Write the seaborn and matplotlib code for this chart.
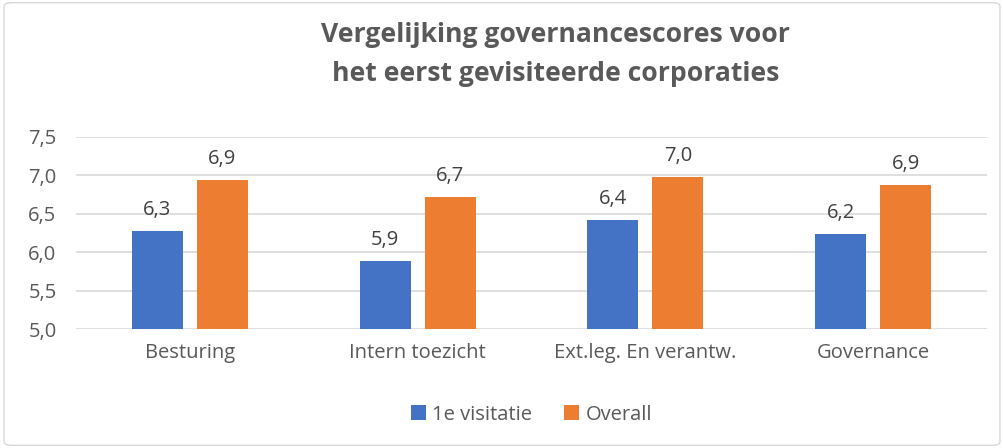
import pandas as pd
import matplotlib.pyplot as plt
import seaborn as sns
from matplotlib.patches import FancyBboxPatch
from matplotlib.ticker import FuncFormatter

# Data
categories = ['Besturing', 'Intern toezicht', 'Ext.leg. En verantw.', 'Governance']
series = ['1e visitatie', 'Overall']
visitatie = [6.27, 5.88, 6.42, 6.23]
overall = [6.94, 6.71, 6.98, 6.87]
yticks = [5.0, 5.5, 6.0, 6.5, 7.0, 7.5]

df = pd.DataFrame({
    'Categorie': categories * 2,
    'Reeks': [series[0]] * 4 + [series[1]] * 4,
    'Score': visitatie + overall,
})

sns.set_style('white')
plt.rcParams['font.family'] = ['Open Sans', 'DejaVu Sans']
text_col = '#595959'

fig = plt.figure(figsize=(10.04, 4.48), dpi=100)
ax = fig.add_axes([76 / 1004, 1 - 329 / 448, (987 - 76) / 1004, (329 - 136.7) / 448])

sns.barplot(data=df, x='Categorie', y='Score', hue='Reeks',
            palette=['#4472C4', '#ED7D31'], saturation=1, width=0.571, gap=0.215,
            linewidth=0, ax=ax, legend=True, zorder=3)

ax.set_ylim(5.0, 7.5)
ax.set_yticks(yticks)
ax.yaxis.set_major_formatter(FuncFormatter(lambda v, p: f'{v:.1f}'.replace('.', ',')))
ax.grid(axis='y', color='#d9d9d9', linewidth=1.2, zorder=0)
ax.set_axisbelow(True)
for s in ax.spines.values():
    s.set_visible(False)
ax.set_xlabel('')
ax.set_ylabel('')
ax.tick_params(axis='both', length=0, labelsize=14.5, colors=text_col)
ax.tick_params(axis='x', pad=10)
ax.tick_params(axis='y', pad=14)

for cont in ax.containers:
    ax.bar_label(cont, labels=[f'{v:.1f}'.replace('.', ',') for v in cont.datavalues],
                 padding=8, fontsize=14.5, color='#404040')

ax.legend(loc='upper center', bbox_to_anchor=(0.5, -0.3), ncol=2, frameon=False,
          fontsize=14.5, labelcolor=text_col, handlelength=0.75, handleheight=0.75,
          handletextpad=0.3, columnspacing=1.6)

fig.text(0.553, 0.952, 'Vergelijking governancescores voor\nhet eerst gevisiteerde corporaties',
         ha='center', va='top', fontsize=19.1, fontweight='bold', color=text_col,
         linespacing=1.68)

border = FancyBboxPatch((0.004, 0.006), 0.992, 0.988, boxstyle='round,pad=0,rounding_size=0.008',
                        transform=fig.transFigure, facecolor='none', edgecolor='#d9d9d9', linewidth=1)
fig.patches.append(border)

fig.savefig('out.png', dpi=100)
